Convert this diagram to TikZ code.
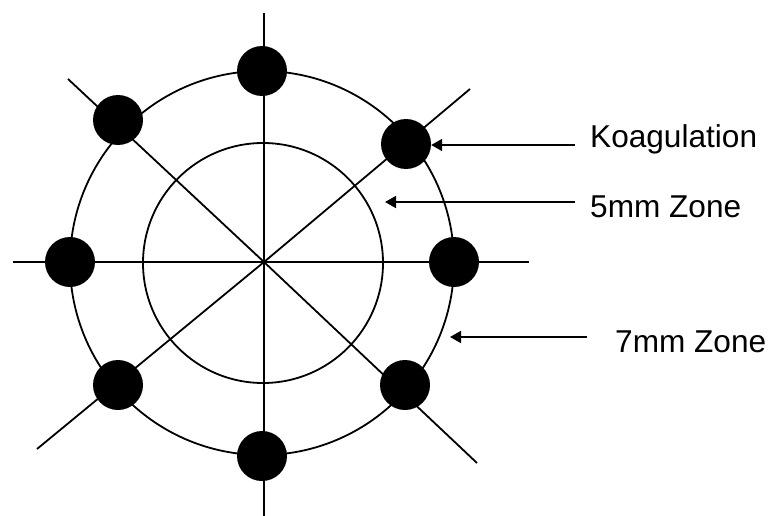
\documentclass[tikz,border=0pt]{standalone}
\usepackage{fontspec}
\setmainfont{Liberation Sans}
\usetikzlibrary{arrows.meta}
\begin{document}
\begin{tikzpicture}[x=1pt,y=-1pt,
  ln/.style={line width=1.8pt,black},
  dot/.style={circle,fill=black,inner sep=0pt,minimum size=50pt},
  lbl/.style={anchor=base west,font=\fontsize{31.6}{36}\selectfont,inner sep=0pt},
  arr/.style={line width=1.8pt,-{Triangle[length=11pt,width=12pt]}}]
\useasboundingbox (0,0) rectangle (770,516);
% center
\coordinate (c) at (264,262);
% spokes
\coordinate (nT) at (264,13);
\coordinate (nB) at (264,516);
\coordinate (nL) at (13,262);
\coordinate (nR) at (529,262);
\coordinate (nTL) at (68,79);
\coordinate (nBR) at (477,463);
\coordinate (nBL) at (37,449);
\coordinate (nTR) at (470,89);
\draw[ln] (nT) -- (nB);
\draw[ln] (nL) -- (nR);
\draw[ln] (nTL) -- (c) -- (nBR);
\draw[ln] (nBL) -- (c) -- (nTR);
% circles
\draw[ln] (263,263) circle[radius=120];
\draw[ln] (262,263) circle[radius=192];
% dots
\node[dot] (d1) at (262,71) {};
\node[dot] (d2) at (406,144) {};
\node[dot] (d3) at (454,262) {};
\node[dot] (d4) at (405,385) {};
\node[dot] (d5) at (262,456) {};
\node[dot] (d6) at (118,385) {};
\node[dot] (d7) at (70,262) {};
\node[dot] (d8) at (118,120) {};
% labels
\node[lbl] (t1) at (590,147) {Koagulation};
\node[lbl] (t2) at (590,217) {5mm Zone};
\node[lbl] (t3) at (615,352) {7mm Zone};
\coordinate (a1s) at (575,145);
\coordinate (a2s) at (575,202);
\coordinate (a2e) at (385,202);
\coordinate (a3s) at (587,337);
\coordinate (a3e) at (450,337);
\draw[arr] (a1s) -- (d2.east |- a1s);
\draw[arr] (a2s) -- (a2e);
\draw[arr] (a3s) -- (a3e);
\end{tikzpicture}
\end{document}
